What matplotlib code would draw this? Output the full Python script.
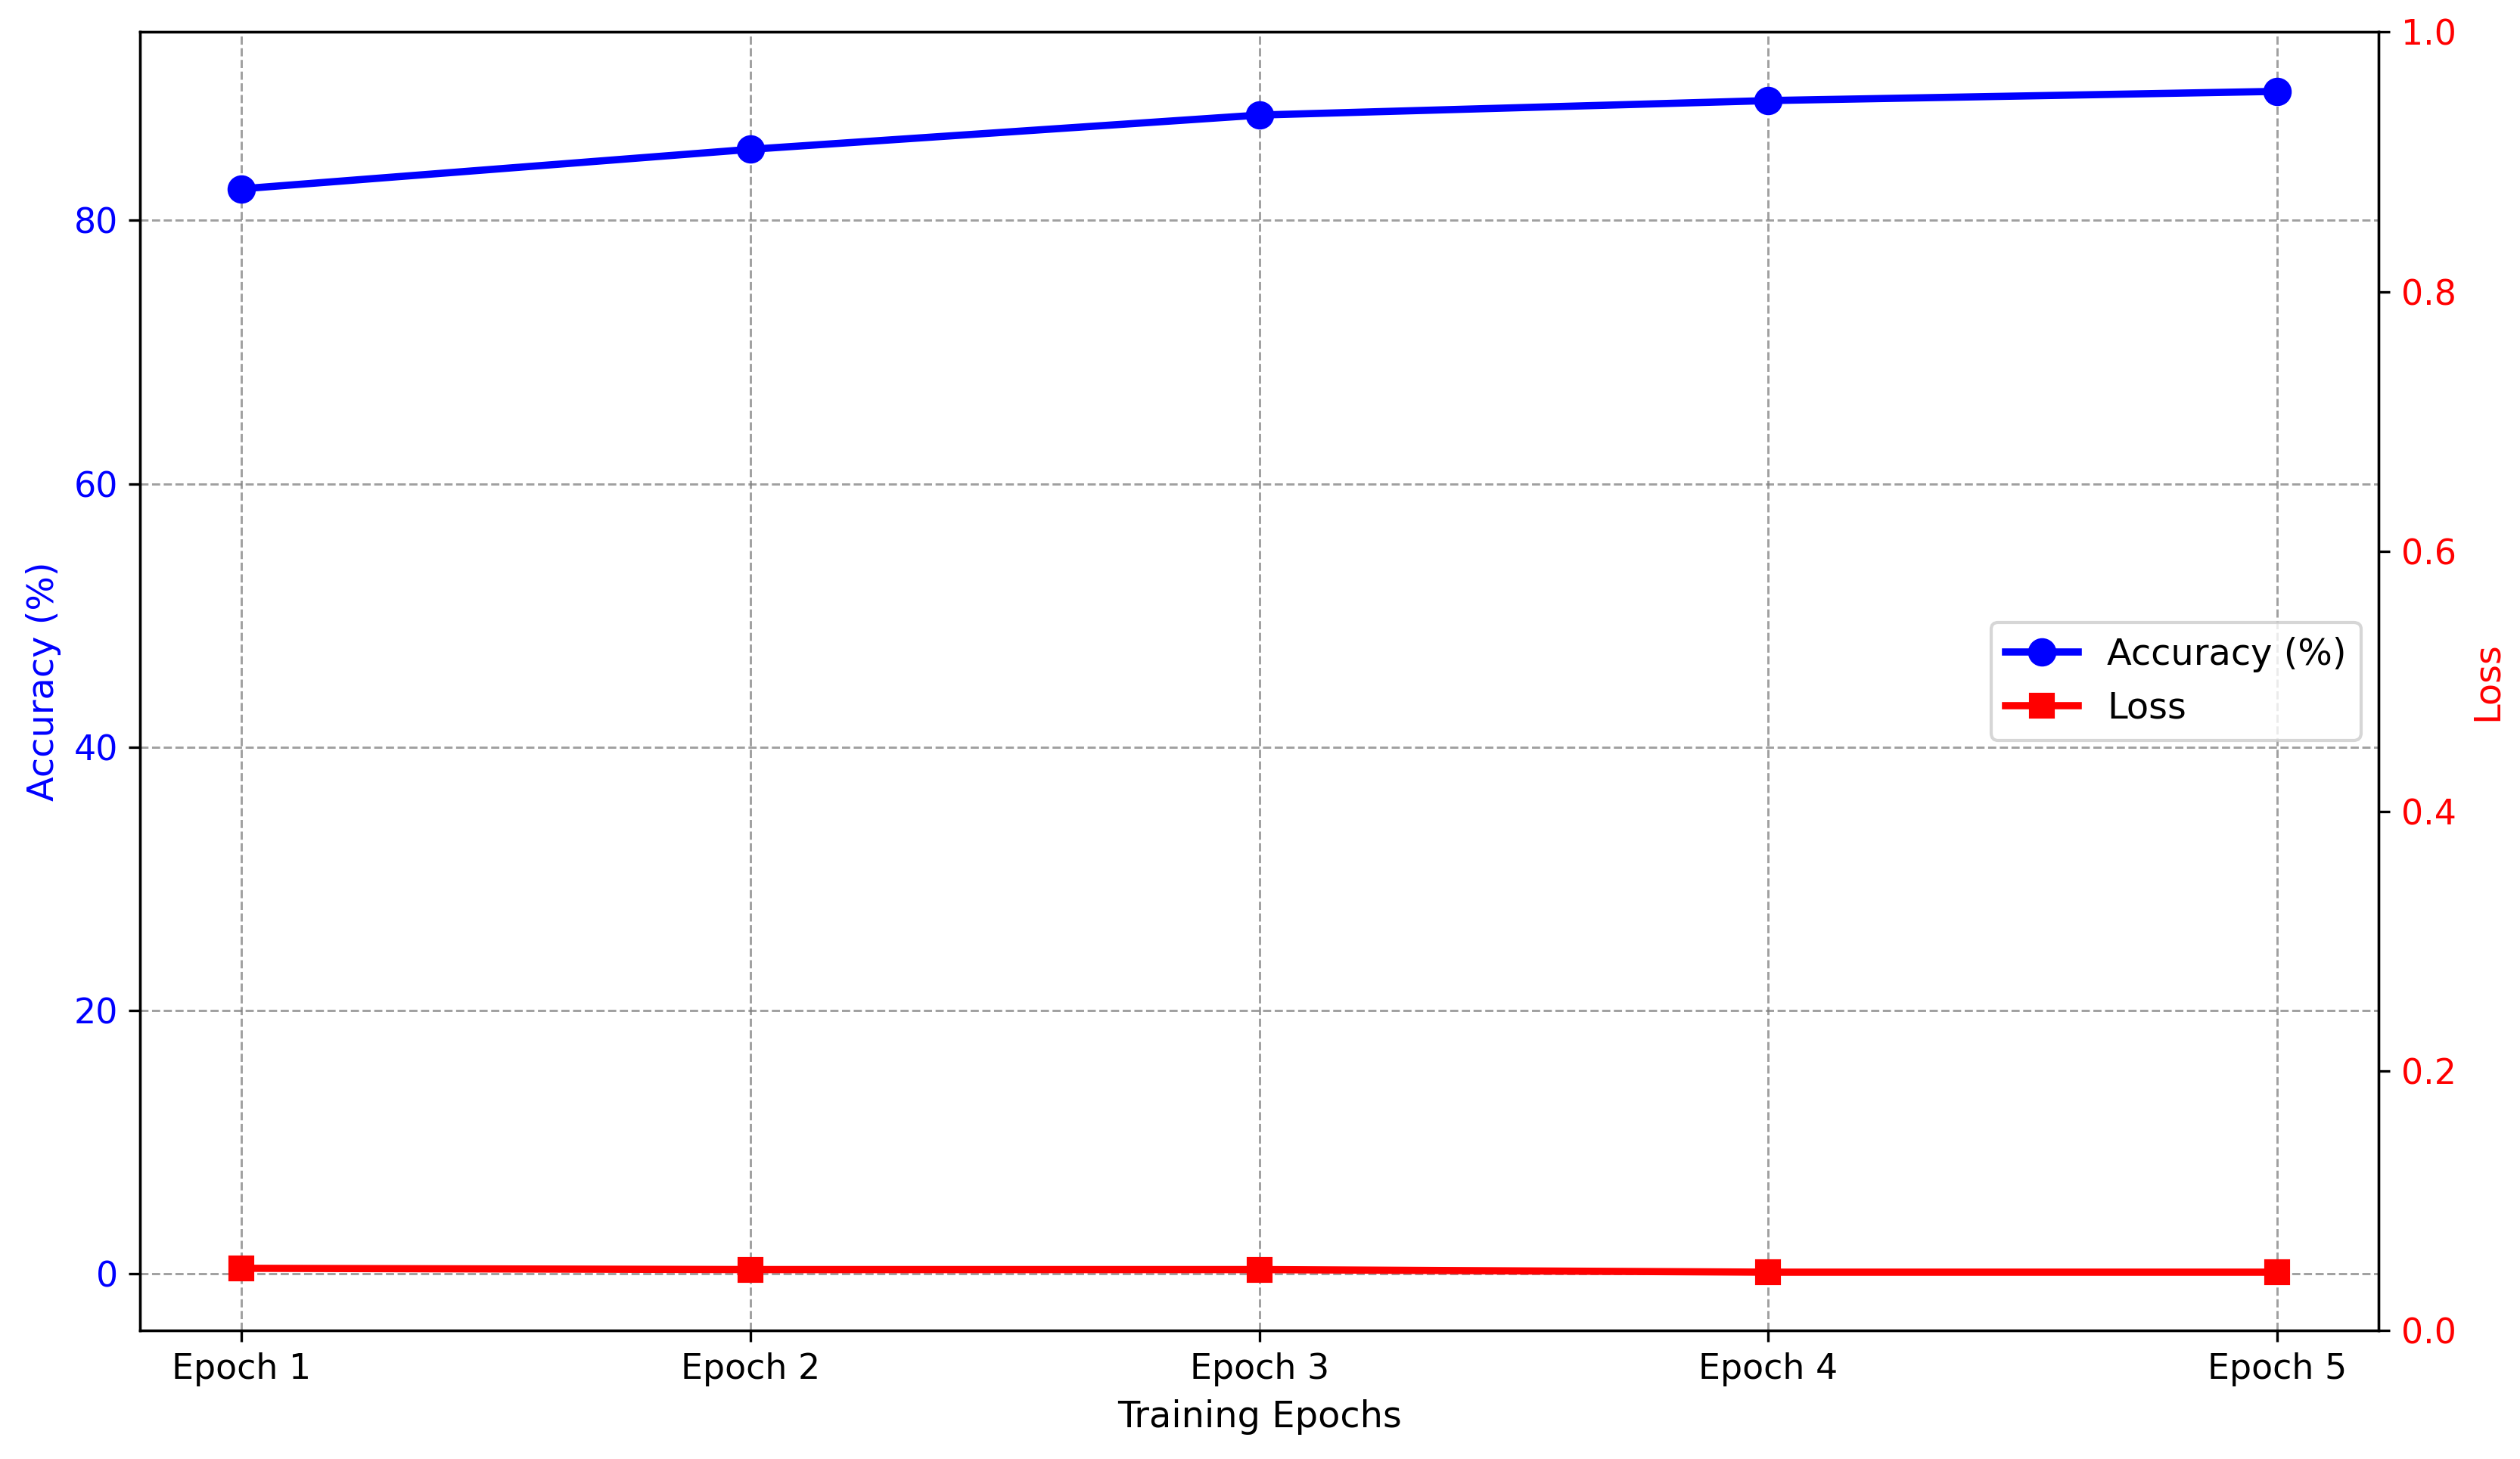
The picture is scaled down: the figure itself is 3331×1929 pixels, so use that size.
import matplotlib
matplotlib.use("Agg")
import matplotlib.pyplot as plt

epochs = ["Epoch 1", "Epoch 2", "Epoch 3", "Epoch 4", "Epoch 5"]
accuracy = [82.4, 85.4, 88.0, 89.1, 89.8]
loss = [0.048, 0.047, 0.047, 0.045, 0.045]

plt.rcParams['font.family'] = ['DejaVu Sans']

fig = plt.figure(figsize=(3331/300, 1929/300), dpi=300)
ax1 = fig.add_axes([0.0555, 0.088, 0.8885, 0.890])
x = list(range(len(epochs)))

l1, = ax1.plot(x, accuracy, color='blue', marker='o', linewidth=2.3, markersize=8, label='Accuracy (%)')
ax1.set_ylim(-4.3, 94.3)
ax1.set_xticks(x)
ax1.set_xticklabels(epochs, fontsize=11)
ax1.set_xlabel('Training Epochs', fontsize=11.5)
ax1.set_ylabel('Accuracy (%)', color='blue', fontsize=11.5)
ax1.tick_params(axis='y', labelcolor='blue', labelsize=11)
ax1.grid(True, linestyle='--', color='gray', alpha=0.75, linewidth=0.7)

ax2 = ax1.twinx()
l2, = ax2.plot(x, loss, color='red', marker='s', linewidth=2.3, markersize=7, label='Loss')
ax2.set_ylim(0, 1.0)
ax2.set_ylabel('Loss', color='red', fontsize=11.5)
ax2.tick_params(axis='y', labelcolor='red', labelsize=11)

ax1.legend([l1, l2], ['Accuracy (%)', 'Loss'], loc='center right', fontsize=11.5)

fig.savefig('out.png', dpi=300)
